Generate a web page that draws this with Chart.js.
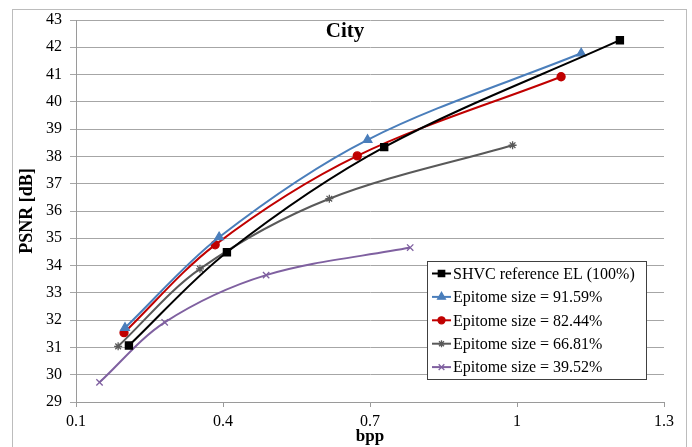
<!DOCTYPE html>
<html>
<head>
<meta charset="utf-8">
<script src="https://cdn.jsdelivr.net/npm/chart.js@4/dist/chart.umd.min.js"></script>
<style>
    body { margin: 0; background: #fff; }
    #frame { position: absolute; left: 12px; top: 9px; width: 673px; height: 460px; border: 1px solid #bcbcbc; }
    #c { position: absolute; left: 0; top: 0; }
</style>
</head>
<body>
<div id="frame"></div>
<canvas id="c" width="692" height="447"></canvas>
<script>
// values
const chartTitle = "City";
const xTicks = [0.1, 0.4, 0.7, 1, 1.3];
const yMin = 29, yMax = 43;

const seriesNames = ["SHVC reference EL (100%)", "Epitome size = 91.59%", "Epitome size = 82.44%", "Epitome size = 66.81%", "Epitome size = 39.52%"];
const shvcX = [0.208, 0.408, 0.729, 1.210];
const shvcY = [31.07, 34.49, 38.34, 42.26];
const ep9159X = [0.200, 0.392, 0.695, 1.131];
const ep9159Y = [31.72, 35.04, 38.61, 41.78];
const ep8244X = [0.198, 0.384, 0.674, 1.090];
const ep8244Y = [31.54, 34.76, 38.02, 40.92];
const ep6681X = [0.186, 0.353, 0.617, 0.991];
const ep6681Y = [31.04, 33.88, 36.45, 38.41];
const ep3952X = [0.148, 0.281, 0.488, 0.782];
const ep3952Y = [29.72, 31.92, 33.65, 34.66];

const colors = ["#000000", "#4a7ebb", "#c00000", "#595959", "#7f60a0"];
const markers = [
    { pointStyle: "rect", radius: 5 },
    { pointStyle: "triangle", radius: 5 },
    { pointStyle: "circle", radius: 4 },
    { pointStyle: "star", radius: 4 },
    { pointStyle: "crossRot", radius: 4.5 }
];
const xs = [shvcX, ep9159X, ep8244X, ep6681X, ep3952X];
const ys = [shvcY, ep9159Y, ep8244Y, ep6681Y, ep3952Y];

const serif = "'Liberation Serif', 'Times New Roman', serif";

const datasets = seriesNames.map((name, i) => ({
    label: name,
    data: xs[i].map((x, j) => ({ x, y: ys[i][j] })),
    showLine: true,
    tension: 0.33,
    borderColor: colors[i],
    backgroundColor: colors[i],
    borderWidth: 2,
    pointStyle: markers[i].pointStyle,
    pointRadius: markers[i].radius,
    pointBorderWidth: 1.3,
    pointHoverRadius: markers[i].radius
}));

// title inside the plot + boxed legend at lower right
const overlay = {
    id: "overlay",
    afterDraw(chart) {
        const ctx = chart.ctx;
        ctx.save();
        ctx.fillStyle = "#000";
        ctx.font = "bold 21px " + serif;
        ctx.textAlign = "center"; ctx.textBaseline = "middle";
        ctx.fillText(chartTitle, 345, 32);

        const bx = 427, by = 261, bw = 219, bh = 118;
        ctx.fillStyle = "#fff"; ctx.fillRect(bx, by, bw, bh);
        ctx.strokeStyle = "#404040"; ctx.lineWidth = 1;
        ctx.strokeRect(bx + 0.5, by + 0.5, bw, bh);
        ctx.font = "16px " + serif;
        ctx.textAlign = "left";
        seriesNames.forEach((name, i) => {
            const y = 273.5 + i * 23.4;
            ctx.strokeStyle = colors[i]; ctx.fillStyle = colors[i]; ctx.lineWidth = 2;
            ctx.beginPath(); ctx.moveTo(432, y); ctx.lineTo(451, y); ctx.stroke();
            ctx.lineWidth = 1.3;
            Chart.helpers.drawPoint(ctx, { pointStyle: markers[i].pointStyle, radius: markers[i].radius - 0.5, rotation: 0, borderWidth: 1.3 }, 441.5, y);
            ctx.fillStyle = "#000";
            ctx.fillText(name, 453, y + 1);
        });
        ctx.restore();
    }
};

new Chart(document.getElementById("c"), {
    type: "scatter",
    data: { datasets },
    options: {
        responsive: false,
        animation: false,
        layout: { padding: { top: 20, right: 28, left: 0, bottom: 0 } },
        plugins: { legend: { display: false }, tooltip: { enabled: false } },
        scales: {
            x: {
                type: "linear", min: xTicks[0], max: xTicks[xTicks.length - 1],
                afterBuildTicks: s => { s.ticks = xTicks.map(v => ({ value: v })); },
                afterFit: s => { s.height = 45; },
                grid: { drawOnChartArea: false, drawTicks: true, tickLength: 5, color: "#9a9a9a" },
                border: { color: "#9a9a9a" },
                ticks: { color: "#000", font: { family: serif, size: 16 }, padding: 5, maxRotation: 0, callback: v => String(v) },
                title: { display: true, text: "bpp", color: "#000", font: { family: serif, size: 17, weight: "bold" }, padding: { top: 0, bottom: 0 } }
            },
            y: {
                min: yMin, max: yMax,
                afterFit: s => { s.width = 76; },
                grid: { color: "#a6a6a6", tickLength: 6 },
                border: { color: "#9a9a9a" },
                ticks: { stepSize: 1, color: "#000", font: { family: serif, size: 16 }, padding: 8 },
                title: { display: true, text: "PSNR [dB]", color: "#000", font: { family: serif, size: 18, weight: "bold" }, padding: { top: 17, bottom: 0 } }
            }
        }
    },
    plugins: [overlay]
});
</script>
</body>
</html>
